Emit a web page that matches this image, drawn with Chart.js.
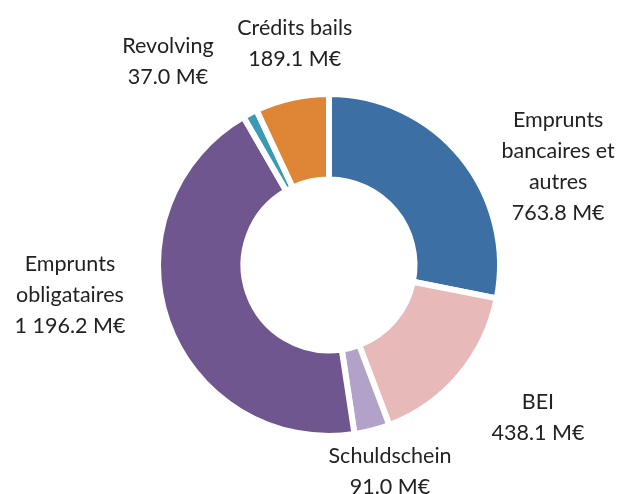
<!DOCTYPE html>
<html>
<head>
<meta charset="utf-8">
<script src="https://cdn.jsdelivr.net/npm/chart.js@4.4.1/dist/chart.umd.min.js"></script>
<style>
  html, body { margin: 0; padding: 0; background: #ffffff; }
  #wrap { width: 624px; height: 494px; }
</style>
</head>
<body>
<div id="wrap"><canvas id="c" width="624" height="494"></canvas></div>
<script>
const categories = ["Emprunts bancaires et autres", "BEI", "Schuldschein", "Emprunts obligataires", "Revolving", "Crédits bails"];
const labelLines = [["Emprunts", "bancaires et", "autres"], ["BEI"], ["Schuldschein"], ["Emprunts", "obligataires"], ["Revolving"], ["Crédits bails"]];
const valueLabels = ["763.8 M€", "438.1 M€", "91.0 M€", "1 196.2 M€", "37.0 M€", "189.1 M€"];
const values = [763.8, 438.1, 91.0, 1196.2, 37.0, 189.1];
const colors = ["#3C70A5", "#E8B9B9", "#B2A1C9", "#6F568E", "#3A99B5", "#DE8536"];

// label placement relative to doughnut centre, in units of outer radius
const labelOffsets = [[1.34, -0.576], [1.222, 0.895], [0.357, 1.21], [-1.515, 0.175], [-0.942, -1.187], [-0.2, -1.293]];

const labelPlugin = {
  id: 'outerLabels',
  afterDraw(chart) {
    const ctx = chart.ctx;
    const meta = chart.getDatasetMeta(0);
    ctx.save();
    ctx.font = '21.5px Lato, "Open Sans", sans-serif';
    ctx.fillStyle = '#222222';
    ctx.textAlign = 'center';
    ctx.textBaseline = 'middle';
    const lh = 31;
    meta.data.forEach((arc, i) => {
      const R = arc.outerRadius;
      const cx = arc.x + labelOffsets[i][0] * R;
      const cy = arc.y + labelOffsets[i][1] * R;
      const lines = labelLines[i].concat([valueLabels[i]]);
      const y0 = cy - (lines.length - 1) * lh / 2;
      lines.forEach((t, k) => ctx.fillText(t, cx, y0 + k * lh));
    });
    ctx.restore();
  }
};

new Chart(document.getElementById('c'), {
  type: 'doughnut',
  data: {
    labels: categories,
    datasets: [{
      data: values,
      backgroundColor: colors,
      borderColor: '#ffffff',
      borderWidth: 6,
      hoverOffset: 0
    }]
  },
  options: {
    responsive: false,
    animation: false,
    cutout: '50%',
    rotation: 0,
    layout: { padding: { left: 155, top: 91, right: 121, bottom: 55 } },
    plugins: {
      legend: { display: false },
      tooltip: { enabled: false },
      title: { display: false }
    }
  },
  plugins: [labelPlugin]
});
</script>
</body>
</html>
